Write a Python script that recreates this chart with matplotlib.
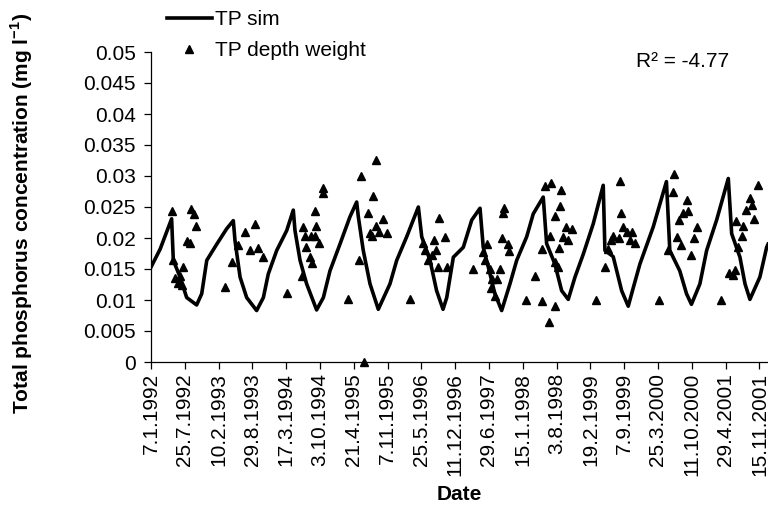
import datetime as dt

import matplotlib
matplotlib.use("Agg")
import matplotlib.pyplot as plt
from matplotlib.ticker import FixedLocator, FuncFormatter, MultipleLocator
import pandas as pd

plt.rcParams["font.family"] = ["Liberation Sans", "DejaVu Sans"]
plt.rcParams["mathtext.fontset"] = "custom"
plt.rcParams["mathtext.rm"] = "Liberation Sans"
plt.rcParams["mathtext.bf"] = "Liberation Sans:bold"

# Simulated total phosphorus (mg/l)
sim_dates = [
    "1992-01-07", "1992-03-01", "1992-05-08", "1992-05-18", "1992-06-27", "1992-08-05",
    "1992-10-03", "1992-11-02", "1992-12-02", "1993-01-30", "1993-03-30", "1993-05-08",
    "1993-05-18", "1993-06-17", "1993-07-26", "1993-09-23", "1993-11-02", "1993-12-01",
    "1994-01-20", "1994-03-20", "1994-04-28", "1994-05-08", "1994-06-07", "1994-07-16",
    "1994-09-13", "1994-10-23", "1994-12-01", "1995-01-29", "1995-03-29", "1995-05-08",
    "1995-05-18", "1995-06-16", "1995-07-26", "1995-09-13", "1995-11-21", "1995-12-31",
    "1996-02-28", "1996-05-07", "1996-05-27", "1996-07-15", "1996-08-23", "1996-09-30",
    "1996-10-22", "1996-11-30", "1997-01-28", "1997-03-19", "1997-05-07", "1997-05-26",
    "1997-06-25", "1997-08-03", "1997-09-12", "1997-10-31", "1997-12-10", "1998-02-07",
    "1998-03-18", "1998-05-16", "1998-06-05", "1998-07-24", "1998-09-02", "1998-10-11",
    "1998-11-20", "1999-01-08", "1999-03-08", "1999-05-06", "1999-05-16", "1999-07-04",
    "1999-08-23", "1999-10-01", "1999-10-31", "1999-12-09", "2000-02-26", "2000-05-14",
    "2000-06-03", "2000-08-01", "2000-09-10", "2000-10-09", "2000-11-28", "2001-01-07",
    "2001-03-07", "2001-05-15", "2001-06-04", "2001-07-23", "2001-08-22", "2001-09-20",
    "2001-11-18", "2001-12-28", "2002-01-05",
]
sim_tp = [
    0.0153, 0.0182, 0.0231, 0.0164, 0.0137, 0.0104,
    0.0092, 0.0110, 0.0164, 0.0190, 0.0215, 0.0228,
    0.0196, 0.0137, 0.0104, 0.0083, 0.0104, 0.0142,
    0.0180, 0.0212, 0.0245, 0.0212, 0.0164, 0.0126,
    0.0084, 0.0104, 0.0147, 0.0190, 0.0234, 0.0258,
    0.0234, 0.0180, 0.0126, 0.0085, 0.0126, 0.0164,
    0.0202, 0.0250, 0.0202, 0.0164, 0.0115, 0.0085,
    0.0104, 0.0169, 0.0185, 0.0229, 0.0248, 0.0185,
    0.0153, 0.0110, 0.0083, 0.0126, 0.0164, 0.0202,
    0.0239, 0.0266, 0.0191, 0.0158, 0.0115, 0.0101,
    0.0137, 0.0174, 0.0223, 0.0285, 0.0180, 0.0170,
    0.0115, 0.0090, 0.0120, 0.0158, 0.0218, 0.0291,
    0.0180, 0.0147, 0.0110, 0.0093, 0.0126, 0.0180,
    0.0229, 0.0296, 0.0207, 0.0169, 0.0126, 0.0101,
    0.0137, 0.0185, 0.0190,
]

# Measured depth-weighted total phosphorus (mg/l)
obs_dates = [
    "1992-05-08", "1992-05-18", "1992-05-28", "1992-06-17", "1992-06-27", "1992-07-06",
    "1992-07-16", "1992-08-05", "1992-08-25", "1992-08-29", "1992-09-17", "1992-09-29",
    "1993-03-19", "1993-05-03", "1993-06-06", "1993-07-15", "1993-08-14", "1993-09-12",
    "1993-10-02", "1993-10-31",
    "1994-03-19", "1994-06-16", "1994-06-25", "1994-07-05", "1994-07-15", "1994-08-04",
    "1994-08-12", "1994-08-14", "1994-09-01", "1994-09-02", "1994-09-08", "1994-09-28",
    "1994-10-18", "1994-10-21",
    "1995-03-18", "1995-05-23", "1995-05-31", "1995-06-19", "1995-07-15", "1995-07-25",
    "1995-08-04", "1995-08-13", "1995-08-29", "1995-09-02", "1995-09-18", "1995-10-08",
    "1995-11-01",
    "1996-03-17", "1996-06-01", "1996-06-14", "1996-07-04", "1996-07-24", "1996-08-07",
    "1996-08-22", "1996-09-01", "1996-09-07", "1996-10-11", "1996-10-21",
    "1997-03-24", "1997-05-26", "1997-06-05", "1997-06-15", "1997-07-05", "1997-07-09",
    "1997-07-15", "1997-08-03", "1997-08-17", "1997-09-02", "1997-09-12", "1997-09-18",
    "1997-09-26", "1997-10-21", "1997-10-27",
    "1998-02-03", "1998-03-28", "1998-05-07", "1998-05-09", "1998-05-26", "1998-06-21",
    "1998-06-25", "1998-06-29", "1998-07-22", "1998-07-24", "1998-07-26", "1998-08-13",
    "1998-08-19", "1998-08-25", "1998-08-27", "1998-09-12", "1998-09-28", "1998-10-11",
    "1998-10-31",
    "1999-03-24", "1999-05-16", "1999-06-05", "1999-06-19", "1999-07-04", "1999-08-09",
    "1999-08-13", "1999-08-17", "1999-08-29", "1999-09-22", "1999-10-11", "1999-10-21",
    "1999-11-10",
    "2000-04-01", "2000-05-24", "2000-06-23", "2000-06-29", "2000-07-16", "2000-07-28",
    "2000-08-11", "2000-08-21", "2000-09-10", "2000-09-19", "2000-10-09", "2000-10-23",
    "2000-11-08",
    "2001-03-31", "2001-05-21", "2001-06-10", "2001-06-24", "2001-06-30", "2001-07-13",
    "2001-08-02", "2001-08-12", "2001-08-28", "2001-09-20", "2001-09-30", "2001-10-14",
    "2001-11-05",
]
obs_tp = [
    0.0243, 0.0165, 0.0136, 0.0127, 0.0139, 0.0125,
    0.0154, 0.0195, 0.0192, 0.0246, 0.0239, 0.0219,
    0.0121, 0.0161, 0.0189, 0.0210, 0.0181, 0.0223,
    0.0184, 0.0170,
    0.0111, 0.0139, 0.0218, 0.0203, 0.0185, 0.0170,
    0.0203, 0.0159, 0.0203, 0.0244, 0.0219, 0.0192,
    0.0280, 0.0272,
    0.0101, 0.0164, 0.0300, 0.0000, 0.0240, 0.0208,
    0.0203, 0.0268, 0.0219, 0.0326, 0.0210, 0.0230,
    0.0208,
    0.0101, 0.0192, 0.0181, 0.0165, 0.0173, 0.0196,
    0.0180, 0.0153, 0.0233, 0.0202, 0.0154,
    0.0150, 0.0177, 0.0164, 0.0191, 0.0150, 0.0120,
    0.0134, 0.0107, 0.0134, 0.0150, 0.0200, 0.0240,
    0.0248, 0.0191, 0.0179,
    0.0100, 0.0139, 0.0098, 0.0183, 0.0284, 0.0065,
    0.0203, 0.0288, 0.0235, 0.0091, 0.0161, 0.0153,
    0.0184, 0.0251, 0.0277, 0.0202, 0.0217, 0.0196,
    0.0215,
    0.0100, 0.0153, 0.0183, 0.0196, 0.0203, 0.0200,
    0.0292, 0.0240, 0.0217, 0.0210, 0.0197, 0.0210,
    0.0192,
    0.0100, 0.0181, 0.0275, 0.0303, 0.0202, 0.0229,
    0.0188, 0.0240, 0.0261, 0.0244, 0.0173, 0.0200,
    0.0217,
    0.0100, 0.0143, 0.0141, 0.0149, 0.0227, 0.0185,
    0.0204, 0.0219, 0.0245, 0.0265, 0.0254, 0.0230,
    0.0285,
]

tick_labels = [
    "7.1.1992", "25.7.1992", "10.2.1993", "29.8.1993", "17.3.1994", "3.10.1994",
    "21.4.1995", "7.11.1995", "25.5.1996", "11.12.1996", "29.6.1997", "15.1.1998",
    "3.8.1998", "19.2.1999", "7.9.1999", "25.3.2000", "11.10.2000", "29.4.2001",
    "15.11.2001",
]
r_squared = -4.77

FS = 15

fig = plt.figure(figsize=(7.68, 5.2), dpi=100)
ax = fig.add_axes([151 / 768, 1 - 362 / 520, 1 - 151 / 768, 310 / 520])

sim_line, = ax.plot(pd.to_datetime(sim_dates), sim_tp, color="black", lw=2.6,
                    solid_joinstyle="round", label="TP sim", zorder=2)
obs_pts, = ax.plot(pd.to_datetime(obs_dates), obs_tp, linestyle="none", marker="^",
                   markersize=6, color="black", label="TP depth weight", zorder=3,
                   clip_on=False)

tick_dates = [dt.datetime.strptime(s, "%d.%m.%Y") for s in tick_labels]
ax.set_xlim(pd.Timestamp("1992-01-07"), pd.Timestamp("2002-01-05"))
ax.xaxis.set_major_locator(FixedLocator(matplotlib.dates.date2num(tick_dates)))
ax.xaxis.set_major_formatter(FuncFormatter(
    lambda v, pos: tick_labels[pos] if pos is not None and pos < len(tick_labels) else ""))

ax.set_ylim(0, 0.05)
ax.yaxis.set_major_locator(MultipleLocator(0.005))
ax.yaxis.set_major_formatter(FuncFormatter(lambda v, pos: f"{round(v, 4):g}"))

for side in ("top", "right"):
    ax.spines[side].set_visible(False)
for side in ("left", "bottom"):
    ax.spines[side].set_linewidth(0.9)

ax.tick_params(axis="both", direction="out", length=5, width=0.9, labelsize=FS)
ax.tick_params(axis="x", rotation=90, pad=3)
ax.tick_params(axis="y", pad=6)

fig.legend(handles=[sim_line, obs_pts], loc="upper left",
           bbox_to_anchor=(167 / 768, 1 - 10 / 520), frameon=False, fontsize=FS,
           borderpad=0, borderaxespad=0, handlelength=2.15, handletextpad=0.15,
           labelspacing=0.6)

fig.text(636 / 768, 1 - 67 / 520, f"R\u00b2 = {r_squared:.2f}", fontsize=FS,
         ha="left", va="baseline")

fig.text(22 / 768, 1 - 213 / 520, r"Total phosphorus concentration (mg l$^{\mathbf{-1}}$)",
         fontsize=FS, fontweight="bold", rotation=90, ha="center", va="center")
fig.text(459 / 768, 1 - 495 / 520, "Date", fontsize=FS, fontweight="bold",
         ha="center", va="center")

fig.savefig("out.png", dpi=100)
